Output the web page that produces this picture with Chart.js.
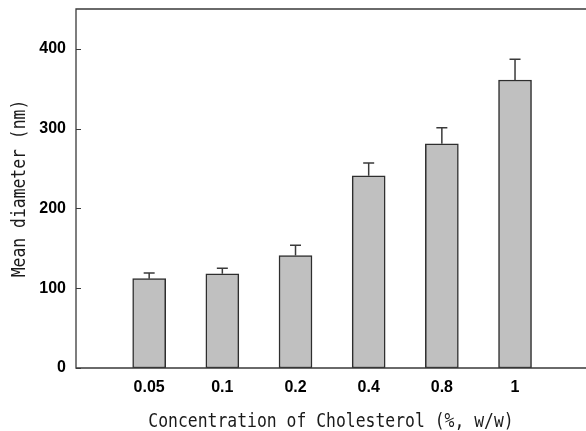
<!DOCTYPE html>
<html>
<head>
<meta charset="utf-8">
<script src="https://cdn.jsdelivr.net/npm/chart.js@4.4.1/dist/chart.umd.min.js"></script>
<style>
  html, body { margin: 0; padding: 0; background: #fff; overflow: hidden; }
  #c { display: block; }
</style>
</head>
<body>
<canvas id="c" width="586" height="431"></canvas>
<script>
// Cholesterol concentration (%, w/w) and the resulting mean vesicle diameter (nm)
const categories = ['0.05', '0.1', '0.2', '0.4', '0.8', '1'];
const meanDiameter = [112, 118, 141, 241, 281, 361];
const stdDev = [7, 7, 13, 16, 20, 26];
const yTicks = [0, 100, 200, 300, 400];
const xTitle = 'Concentration of Cholesterol (%, w/w)';
const yTitle = 'Mean diameter (nm)';

const AXIS_COLOR = '#3a3a3a';
const BAR_FILL = '#c0c0c0';
const BAR_EDGE = '#2e2e2e';

// Axis titles use a tall, narrow monospace face: a larger mono font squeezed horizontally
const TITLE_FONT = '20px "DejaVu Sans Mono", "Liberation Mono", monospace';
const TITLE_SX = 0.82;

function drawTitle(ctx, text, x, y, rot) {
  ctx.save();
  ctx.translate(x, y);
  ctx.rotate(rot);
  ctx.scale(TITLE_SX, 1);
  ctx.font = TITLE_FONT;
  ctx.fillStyle = '#1a1a1a';
  ctx.textAlign = 'center';
  ctx.textBaseline = 'alphabetic';
  ctx.fillText(text, 0, 0);
  ctx.restore();
}

// Frame (top, left, bottom), inward y ticks, upper error bars and axis titles
const frameAndErrors = {
  id: 'frameAndErrors',
  afterDatasetsDraw(chart) {
    const { ctx, chartArea: a, scales: { x, y } } = chart;
    ctx.save();
    // error bars (upper half only)
    ctx.strokeStyle = '#3a3a3a';
    ctx.lineWidth = 1.5;
    meanDiameter.forEach((m, i) => {
      const px = x.getPixelForValue(i + 1);
      const yTop = y.getPixelForValue(m);
      const yCap = y.getPixelForValue(m + stdDev[i]);
      ctx.beginPath();
      ctx.moveTo(px, yTop);
      ctx.lineTo(px, yCap);
      ctx.moveTo(px - 5.5, yCap);
      ctx.lineTo(px + 5.5, yCap);
      ctx.stroke();
    });
    // frame
    ctx.strokeStyle = AXIS_COLOR;
    ctx.lineWidth = 1.3;
    ctx.beginPath();
    ctx.moveTo(a.right + 2, a.top);
    ctx.lineTo(a.left, a.top);
    ctx.lineTo(a.left, a.bottom);
    ctx.lineTo(a.right + 2, a.bottom);
    ctx.stroke();
    // inward ticks on the y axis
    ctx.lineWidth = 1;
    yTicks.forEach(v => {
      const py = Math.round(y.getPixelForValue(v)) + 0.5;
      ctx.beginPath();
      ctx.moveTo(a.left, py);
      ctx.lineTo(a.left + 5, py);
      ctx.stroke();
    });
    ctx.restore();
    // axis titles
    drawTitle(ctx, xTitle, (a.left + a.right) / 2, chart.height - 4, 0);
    drawTitle(ctx, yTitle, 25, (a.top + a.bottom) / 2, -Math.PI / 2);
  }
};

const tickFont = { family: '"Liberation Sans", Arial, sans-serif', size: 16, weight: 'bold' };

new Chart(document.getElementById('c'), {
  type: 'bar',
  data: {
    datasets: [{
      data: meanDiameter.map((v, i) => ({ x: i + 1, y: v })),
      backgroundColor: BAR_FILL,
      borderColor: BAR_EDGE,
      borderWidth: 1.5,
      borderSkipped: false,
      barThickness: 33
    }]
  },
  options: {
    responsive: false,
    animation: false,
    layout: { padding: { top: 9, right: 0, left: 0, bottom: 0 } },
    plugins: { legend: { display: false }, tooltip: { enabled: false } },
    scales: {
      x: {
        type: 'linear',
        offset: false,
        min: 0,
        max: 6.97,
        grid: { display: false, drawTicks: false, offset: false },
        border: { display: false },
        afterBuildTicks: s => { s.ticks = categories.map((c, i) => ({ value: i + 1 })); },
        afterFit: s => { s.height = 63; s.paddingLeft = 0; s.paddingRight = 0; },
        ticks: {
          font: tickFont,
          color: '#000',
          padding: 10,
          autoSkip: false,
          maxRotation: 0,
          callback: (v, i) => categories[i]
        },
        title: { display: false }
      },
      y: {
        min: 0,
        max: 450,
        grid: { display: false, drawTicks: false },
        border: { display: false },
        afterBuildTicks: s => { s.ticks = yTicks.map(v => ({ value: v })); },
        afterFit: s => { s.width = 76; s.paddingTop = 0; s.paddingBottom = 0; },
        ticks: {
          font: tickFont,
          color: '#000',
          padding: 10,
          callback: v => String(v)
        },
        title: { display: false }
      }
    }
  },
  plugins: [frameAndErrors]
});
</script>
</body>
</html>
